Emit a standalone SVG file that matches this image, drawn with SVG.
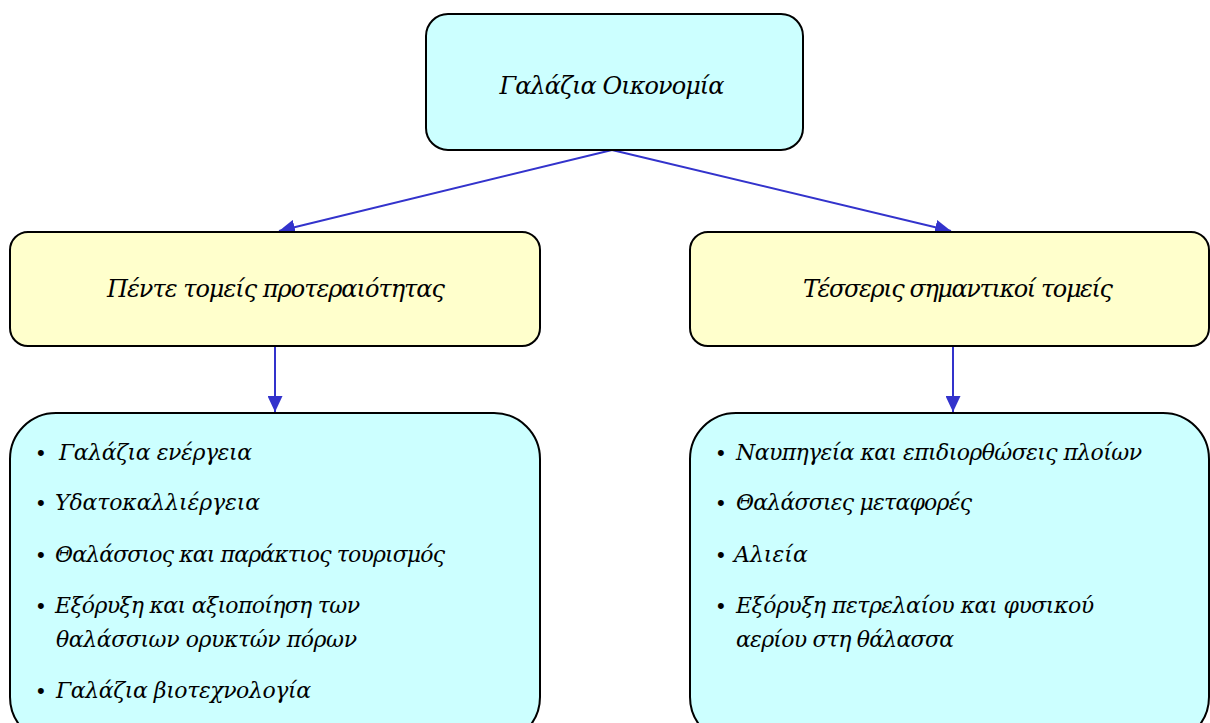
<svg xmlns="http://www.w3.org/2000/svg" width="1210" height="723" viewBox="0 0 1210 723">
<style>
.box{stroke:#000;stroke-width:2}
.cyan{fill:#ccffff}
.yellow{fill:#ffffcc}
.t{font-family:"DejaVu Serif","Liberation Serif",serif;font-style:italic;fill:#000}
.title{font-size:24px;text-anchor:middle}
.item{font-size:22px}
.bullet{font-family:"Liberation Sans",sans-serif;font-size:22px}
.conn{stroke:#3333cc;stroke-width:2;fill:none}
</style>
<defs>
<marker id="ah" viewBox="0 0 10 10" refX="10" refY="5" markerWidth="8" markerHeight="7.5" orient="auto" markerUnits="strokeWidth" preserveAspectRatio="none">
<path d="M0,0 L10,5 L0,10 z" fill="#3333cc"/>
</marker>
</defs>
<rect width="1210" height="723" fill="#fff"/>
<g id="connectors">
<line class="conn" x1="612" y1="150" x2="279" y2="231" marker-end="url(#ah)"/>
<line class="conn" x1="612" y1="150" x2="951" y2="231" marker-end="url(#ah)"/>
<line class="conn" x1="275" y1="346" x2="275" y2="412" marker-end="url(#ah)"/>
<line class="conn" x1="953" y1="346" x2="953" y2="412" marker-end="url(#ah)"/>
</g>
<g id="node-root">
<rect class="box cyan" x="426" y="14" width="377" height="136" rx="22"/>
<text class="t title" x="612" y="94" textLength="225" lengthAdjust="spacing">Γαλάζια Οικονομία</text>
</g>
<g id="node-five">
<rect class="box yellow" x="10" y="232" width="530" height="114" rx="18"/>
<text class="t title" x="276" y="297" textLength="338" lengthAdjust="spacing">Πέντε τομείς προτεραιότητας</text>
</g>
<g id="node-four">
<rect class="box yellow" x="690" y="232" width="519" height="114" rx="18"/>
<text class="t title" x="958" y="297" textLength="310" lengthAdjust="spacing">Τέσσερις σημαντικοί τομείς</text>
</g>
<g id="node-five-list">
<rect class="box cyan" x="10" y="413" width="530" height="330" rx="46"/>
<text class="bullet" x="37" y="460">•</text>
<text class="t item" x="59" y="460" textLength="193" lengthAdjust="spacing">Γαλάζια ενέργεια</text>
<text class="bullet" x="37" y="510">•</text>
<text class="t item" x="55" y="510" textLength="205" lengthAdjust="spacing">Υδατοκαλλιέργεια</text>
<text class="bullet" x="37" y="562">•</text>
<text class="t item" x="55" y="562" textLength="390" lengthAdjust="spacing">Θαλάσσιος και παράκτιος τουρισμός</text>
<text class="bullet" x="37" y="613">•</text>
<text class="t item" x="55" y="613" textLength="305" lengthAdjust="spacing">Εξόρυξη και αξιοποίηση των</text>
<text class="t item" x="56" y="647" textLength="301" lengthAdjust="spacing">θαλάσσιων ορυκτών πόρων</text>
<text class="bullet" x="37" y="698">•</text>
<text class="t item" x="56" y="698" textLength="255" lengthAdjust="spacing">Γαλάζια βιοτεχνολογία</text>
</g>
<g id="node-four-list">
<rect class="box cyan" x="690" y="413" width="519" height="330" rx="46"/>
<text class="bullet" x="717" y="460">•</text>
<text class="t item" x="736" y="460" textLength="406" lengthAdjust="spacing">Ναυπηγεία και επιδιορθώσεις πλοίων</text>
<text class="bullet" x="717" y="510">•</text>
<text class="t item" x="736" y="510" textLength="236" lengthAdjust="spacing">Θαλάσσιες μεταφορές</text>
<text class="bullet" x="717" y="562">•</text>
<text class="t item" x="734" y="562">Αλιεία</text>
<text class="bullet" x="717" y="613">•</text>
<text class="t item" x="736" y="613" textLength="358" lengthAdjust="spacing">Εξόρυξη πετρελαίου και φυσικού</text>
<text class="t item" x="736" y="647" textLength="218" lengthAdjust="spacing">αερίου στη θάλασσα</text>
</g>
</svg>
